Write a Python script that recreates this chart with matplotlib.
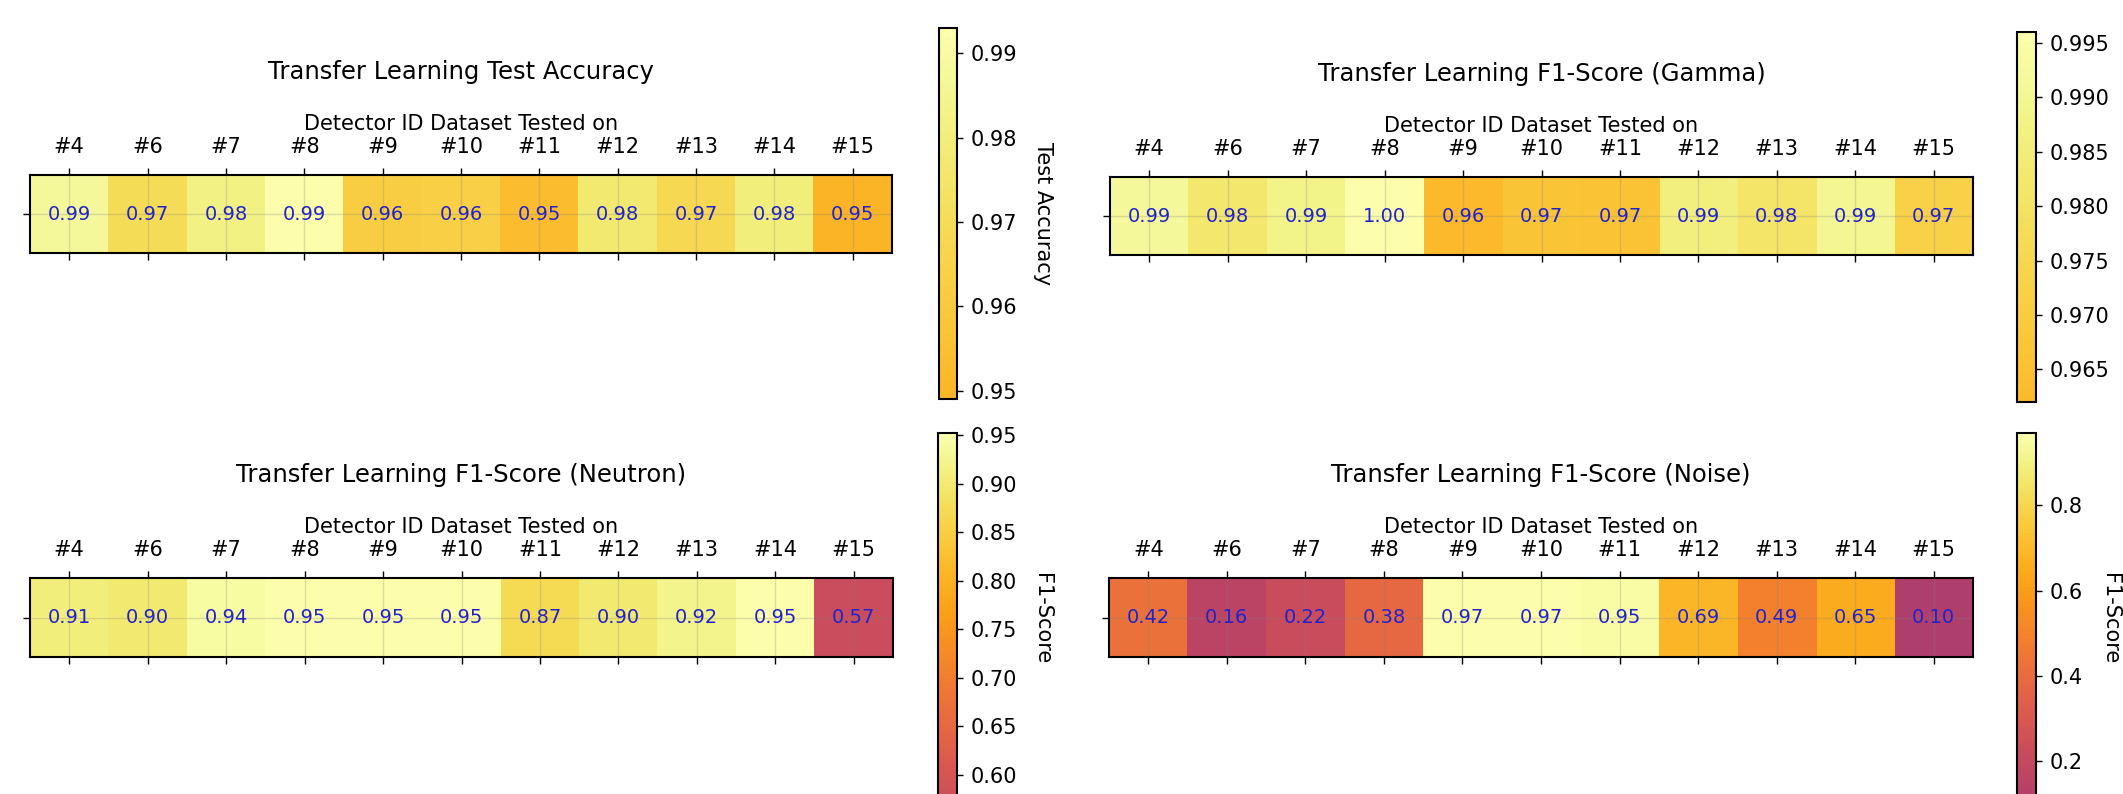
import numpy as np
import matplotlib
matplotlib.use("Agg")
import matplotlib.pyplot as plt
from matplotlib.colors import ListedColormap

# detectors the model was tested on
detectors = ["#4", "#6", "#7", "#8", "#9", "#10", "#11", "#12", "#13", "#14", "#15"]

# values
test_accuracy = [0.988, 0.970, 0.982, 0.993, 0.962, 0.963, 0.953, 0.977, 0.968, 0.980, 0.949]
f1_gamma = [0.992, 0.982, 0.988, 0.996, 0.962, 0.967, 0.966, 0.986, 0.981, 0.990, 0.972]
f1_neutron = [0.91, 0.90, 0.94, 0.95, 0.95, 0.952, 0.87, 0.90, 0.92, 0.95, 0.57]
f1_noise = [0.42, 0.16, 0.22, 0.38, 0.97, 0.97, 0.95, 0.69, 0.49, 0.65, 0.10]

# colorbar tick labels
ticks_accuracy = [0.95, 0.96, 0.97, 0.98, 0.99]
ticks_gamma = [0.965, 0.970, 0.975, 0.980, 0.985, 0.990, 0.995]
ticks_neutron = [0.60, 0.65, 0.70, 0.75, 0.80, 0.85, 0.90, 0.95]
ticks_noise = [0.2, 0.4, 0.6, 0.8]

W, H = 2123, 794
fig = plt.figure(figsize=(W / 100, H / 100), dpi=100)


def box(x0, x1, y0, y1):
    # pixel box (from top-left) -> figure fraction
    return [x0 / W, 1 - y1 / H, (x1 - x0) / W, (y1 - y0) / H]


panels = [
    # values, title, cbar label, label x, cmap start, heat box, cbar box, ticks, fmt
    (test_accuracy, "Transfer Learning Test Accuracy", "Test Accuracy", 1043, 0.82,
     (30, 892, 175, 253), (939, 957, 28, 399), ticks_accuracy, "%.2f"),
    (f1_gamma, "Transfer Learning F1-Score (Gamma)", None, None, 0.83,
     (1110, 1973, 177, 255), (2017, 2036, 32, 402), ticks_gamma, "%.3f"),
    (f1_neutron, "Transfer Learning F1-Score (Neutron)", "F1-Score", 1042, 0.53,
     (30, 893, 578, 657), (938, 957, 433, 804), ticks_neutron, "%.2f"),
    (f1_noise, "Transfer Learning F1-Score (Noise)", "F1-Score", 2110, 0.45,
     (1109, 1973, 578, 657), (2017, 2036, 433, 804), ticks_noise, "%.1f"),
]

for vals, title, clabel, lx, lo, hb, cb, cticks, fmt in panels:
    vals = np.array(vals)
    cmap = ListedColormap(plt.cm.inferno(np.linspace(lo, 1, 256)))
    ax = fig.add_axes(box(*hb))
    im = ax.imshow(vals[None, :], cmap=cmap, aspect="auto", alpha=0.92,
                   vmin=vals.min(), vmax=vals.max())
    for i, v in enumerate(vals):
        ax.text(i, 0, "%.2f" % v, ha="center", va="center", color="#2222cc", fontsize=14)

    ax.set_xticks(range(len(detectors)))
    ax.set_xticklabels(detectors)
    ax.set_yticks([0])
    ax.set_yticklabels([])
    ax.tick_params(axis="x", top=True, bottom=True, labeltop=True, labelbottom=False,
                   labelsize=15, length=5, width=1, pad=8)
    ax.tick_params(axis="y", length=5, width=1)
    ax.grid(True, color="grey", alpha=0.25, linewidth=1)
    ax.xaxis.set_label_position("top")
    ax.set_xlabel("Detector ID Dataset Tested on", fontsize=15, labelpad=5)
    # title sits ~95 px above the top of the heatmap
    ax.set_title(title, fontsize=17.5, y=1 + 95 / (hb[3] - hb[2]), va="center")
    for s in ax.spines.values():
        s.set_linewidth(1.5)

    cax = fig.add_axes(box(*cb))
    cbar = fig.colorbar(im, cax=cax, ticks=cticks, format=fmt)
    cbar.outline.set_linewidth(1.5)
    cax.tick_params(labelsize=15, length=4.5, width=1, pad=5.5)
    if clabel:
        fig.text(lx / W, 1 - ((cb[2] + cb[3]) / 2) / H, clabel, rotation=270,
                 ha="center", va="center", fontsize=15)

fig.savefig("out.png", dpi=100)
